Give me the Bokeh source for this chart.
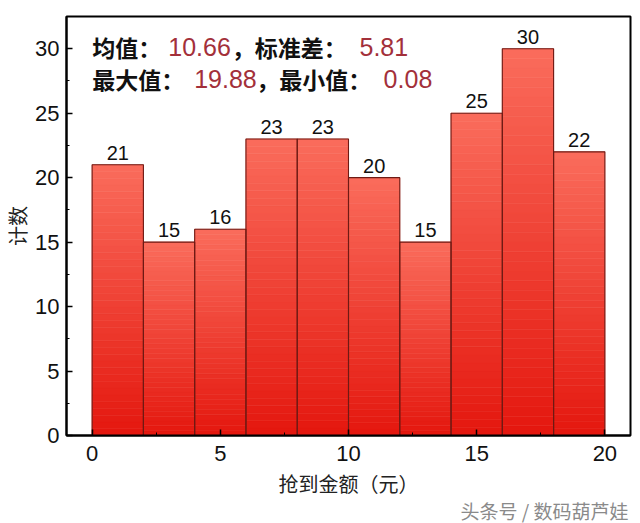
from bokeh.plotting import figure
from bokeh.models import ColumnDataSource, Range1d, SingleIntervalTicker, Label, Title
from bokeh.core.properties import value
from bokeh.embed import file_html
from bokeh.resources import INLINE

# ---- data ----
bin_left = [0, 2, 4, 6, 8, 10, 12, 14, 16, 18]
bin_right = [2, 4, 6, 8, 10, 12, 14, 16, 18, 20]
counts = [21, 15, 16, 23, 23, 20, 15, 25, 30, 22]
stat_names_1 = ["均值：", "，标准差："]
stat_values_1 = ["10.66", "5.81"]
stat_names_2 = ["最大值：", "，最小值："]
stat_values_2 = ["19.88", "0.08"]
x_title = "抢到金额（元）"
y_title = "计数"
watermark = "头条号 / 数码葫芦娃"

CJK = "Noto Sans CJK SC"
LAT = "Liberation Sans"

p = figure(width=640, height=523, output_backend="svg", toolbar_location=None,
           x_range=Range1d(-1, 21), y_range=Range1d(0, 32.5),
           min_border_left=66, min_border_right=10, min_border_top=16, min_border_bottom=88)
p.background_fill_color = "white"
p.border_fill_color = "white"
p.outline_line_color = "black"
p.outline_line_width = 2
p.xgrid.visible = False
p.ygrid.visible = False

# gradient bars: per-bar vertical strips
def lerp(c1, c2, t):
    return "#%02x%02x%02x" % tuple(int(round(a + (b - a) * t)) for a, b in zip(c1, c2))

bottom_c = (0xe4, 0x17, 0x0e)
top_c = (0xfa, 0x6c, 0x5c)
N = 40
gl, gr, gb, gt, gc = [], [], [], [], []
for l, r, c in zip(bin_left, bin_right, counts):
    for k in range(N):
        gl.append(l); gr.append(r)
        gb.append(c * k / N); gt.append(c * (k + 1) / N)
        gc.append(lerp(bottom_c, top_c, (k + 0.5) / N))
p.quad(left=gl, right=gr, bottom=gb, top=gt, fill_color=gc, line_color=gc, line_width=0.6)

src = ColumnDataSource(dict(left=bin_left, right=bin_right, top=counts,
                            mid=[(a + b) / 2 for a, b in zip(bin_left, bin_right)],
                            lab=[str(c) for c in counts]))
p.quad(left="left", right="right", bottom=0, top="top", source=src,
       fill_alpha=0, line_color="#6e1a14", line_width=1.1)
p.text(x="mid", y="top", text="lab", source=src, text_font=value(LAT),
       text_font_size="20px", text_align="center", text_baseline="alphabetic",
       y_offset=-12, text_color="#111111")

# statistics annotation
num_color = "#a3303a"
def stat(x, y, txt, is_num):
    if is_num:
        p.add_layout(Label(x=x, y=y, text=txt, text_font=LAT, text_font_size="25px",
                           text_baseline="middle", text_color=num_color))
    else:
        p.add_layout(Label(x=x, y=y, text=txt, text_font=CJK, text_font_style="bold",
                           text_font_size="23px", text_baseline="middle", text_color="#111111"))

stat(0, 30.15, stat_names_1[0], False)
stat(2.97, 30.15, stat_values_1[0], True)
stat(5.45, 30.15, stat_names_1[1], False)
stat(10.43, 30.15, stat_values_1[1], True)
stat(0, 27.65, stat_names_2[0], False)
stat(3.98, 27.65, stat_values_2[0], True)
stat(6.4, 27.65, stat_names_2[1], False)
stat(11.37, 27.65, stat_values_2[1], True)

# axes
for ax in (p.xaxis[0], p.yaxis[0]):
    ax.ticker = SingleIntervalTicker(interval=5, num_minor_ticks=2)
    ax.axis_line_color = "black"
    ax.axis_line_width = 2
    ax.major_tick_in = 6
    ax.major_tick_out = 0
    ax.minor_tick_in = 3
    ax.minor_tick_out = 0
    ax.major_tick_line_color = "black"
    ax.minor_tick_line_color = "black"
    ax.major_tick_line_width = 1.5
    ax.major_label_text_font = LAT
    ax.major_label_text_font_size = "22px"
    ax.major_label_text_color = "#111111"
    ax.axis_label_text_font = CJK
    ax.axis_label_text_font_size = "20px"
    ax.axis_label_text_font_style = "normal"
    ax.axis_label_text_color = "#222222"

p.xaxis.axis_label = x_title
p.xaxis.major_label_standoff = 10
p.xaxis.axis_label_standoff = 5
p.yaxis.axis_label = y_title
p.yaxis.major_label_standoff = 7
p.yaxis.axis_label_standoff = 0

p.add_layout(Title(text=watermark, align="right", text_font=CJK, text_font_size="19px",
                   text_font_style="normal", text_color="#8a8a8a", standoff=-12, offset=2), "below")

open("out.html", "w").write(file_html(p, INLINE))
